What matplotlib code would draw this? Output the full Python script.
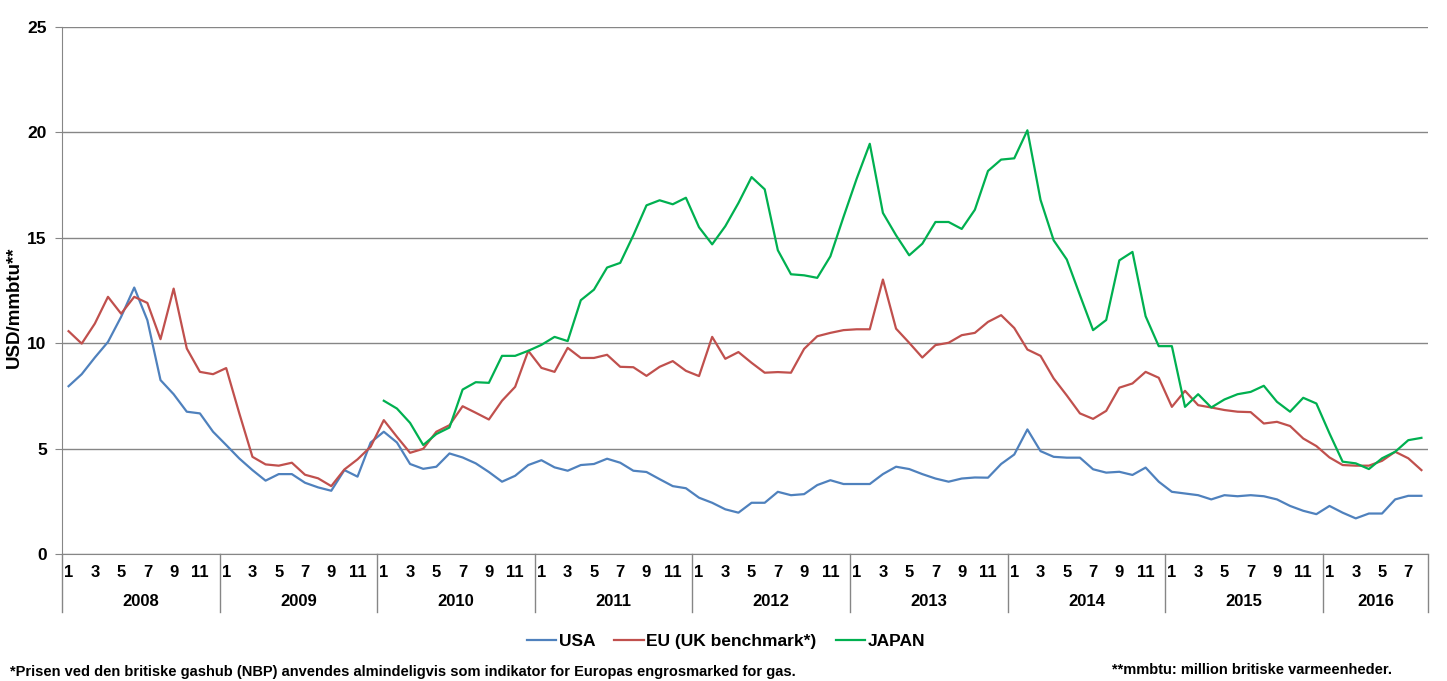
import matplotlib
matplotlib.use("Agg")
import matplotlib.pyplot as plt
import matplotlib.transforms as mtransforms
import numpy as np

plt.rcParams['font.family'] = ['Liberation Sans', 'DejaVu Sans']
plt.rcParams['font.weight'] = 'bold'

# monthly prices, Jan 2008 - Aug 2016 (USD/mmbtu)
years = ['2008', '2009', '2010', '2011', '2012', '2013', '2014', '2015', '2016']
month_labels = ['1', '3', '5', '7', '9', '11']

usa = [7.96, 8.53, 9.32, 10.06, 11.25, 12.64, 11.09, 8.25, 7.58, 6.75, 6.67, 5.8,
       5.17, 4.53, 3.98, 3.48, 3.79, 3.79, 3.38, 3.16, 3.0, 3.98, 3.67, 5.29,
       5.8, 5.29, 4.27, 4.04, 4.14, 4.77, 4.58, 4.3, 3.89, 3.43, 3.71, 4.22,
       4.45, 4.11, 3.95, 4.22, 4.27, 4.52, 4.33, 3.95, 3.89, 3.55, 3.22, 3.12,
       2.67, 2.43, 2.12, 1.96, 2.43, 2.43, 2.95, 2.79, 2.84, 3.27, 3.5, 3.32,
       3.32, 3.32, 3.79, 4.14, 4.03, 3.79, 3.58, 3.43, 3.58, 3.63, 3.62, 4.27,
       4.72, 5.91, 4.88, 4.61, 4.57, 4.57, 4.02, 3.86, 3.9, 3.75, 4.1, 3.43,
       2.95, 2.87, 2.79, 2.59, 2.79, 2.74, 2.79, 2.74, 2.59, 2.28, 2.05, 1.89,
       2.28, 1.96, 1.69, 1.92, 1.92, 2.59, 2.76, 2.76]

eu = [10.57, 9.98, 10.93, 12.2, 11.4, 12.2, 11.91, 10.19, 12.59, 9.75, 8.64, 8.53,
      8.82, 6.67, 4.61, 4.25, 4.19, 4.33, 3.76, 3.59, 3.22, 4.01, 4.49, 5.09,
      6.35, 5.56, 4.8, 4.99, 5.8, 6.11, 7.01, 6.7, 6.38, 7.27, 7.93, 9.64,
      8.83, 8.64, 9.78, 9.3, 9.3, 9.45, 8.88, 8.86, 8.45, 8.88, 9.15, 8.69,
      8.44, 10.3, 9.26, 9.58, 9.07, 8.6, 8.63, 8.6, 9.73, 10.33, 10.49, 10.62,
      10.66, 10.66, 13.02, 10.69, 10.02, 9.32, 9.91, 10.02, 10.38, 10.49, 11.01, 11.33,
      10.72, 9.7, 9.4, 8.33, 7.52, 6.67, 6.41, 6.79, 7.89, 8.09, 8.64, 8.36,
      6.98, 7.74, 7.06, 6.95, 6.83, 6.75, 6.73, 6.19, 6.27, 6.07, 5.48, 5.12,
      4.58, 4.22, 4.19, 4.19, 4.42, 4.85, 4.54, 3.98]

# Japan series starts Jan 2010
japan = [7.27, 6.9, 6.22, 5.17, 5.69, 6.0, 7.8, 8.15, 8.12, 9.4, 9.4, 9.64,
         9.92, 10.3, 10.1, 12.04, 12.54, 13.59, 13.81, 15.12, 16.54, 16.78, 16.59, 16.9,
         15.5, 14.69, 15.55, 16.65, 17.88, 17.3, 14.41, 13.27, 13.22, 13.1, 14.12, 15.99,
         17.8, 19.46, 16.18, 15.12, 14.17, 14.72, 15.75, 15.75, 15.42, 16.33, 18.17, 18.71,
         18.77, 20.1, 16.8, 14.88, 13.97, 12.28, 10.62, 11.1, 13.93, 14.33, 11.28, 9.86,
         9.86, 6.98, 7.58, 6.95, 7.33, 7.58, 7.69, 7.98, 7.22, 6.75, 7.41, 7.14,
         5.72, 4.38, 4.3, 4.03, 4.54, 4.85, 5.4, 5.51]

n = len(usa)
x = np.arange(n)
x_japan = np.arange(n - len(japan), n)

W, H = 1447, 681
fig = plt.figure(figsize=(W / 100, H / 100), dpi=100)
left, right, top, bottom = 62, 1428, 27, 554
ax = fig.add_axes([left / W, 1 - bottom / H, (right - left) / W, (bottom - top) / H])

grid_col = '#868686'
ax.plot(x, usa, color='#4F81BD', lw=1.6, label='USA')
ax.plot(x, eu, color='#C0504D', lw=1.6, label='EU (UK benchmark*)')
ax.plot(x_japan, japan, color='#00B050', lw=1.6, label='JAPAN')

ax.set_xlim(-0.5, n - 0.5)
ax.set_ylim(0, 25)
ax.set_yticks(range(0, 26, 5))
ax.yaxis.grid(True, color=grid_col, lw=1)
ax.set_axisbelow(True)
for s in ['top', 'right']:
    ax.spines[s].set_visible(False)
ax.spines['left'].set_color(grid_col)
ax.spines['bottom'].set_color(grid_col)
ax.tick_params(axis='y', length=5, color=grid_col, labelsize=12.5, pad=6)
for lab in ax.get_yticklabels():
    lab.set_fontweight('bold')

# month ticks (odd months) and year groups
ticks = list(range(0, n, 2))
ax.set_xticks(ticks)
ax.set_xticklabels([month_labels[(t % 12) // 2] for t in ticks], fontsize=12, fontweight='bold')
ax.tick_params(axis='x', length=0, pad=8)

trans = mtransforms.blended_transform_factory(ax.transData, ax.transAxes)
sep_depth = 58 / (bottom - top)
for k in range(len(years) + 1):
    xs = min(k * 12, n) - 0.5
    ax.plot([xs, xs], [0, -sep_depth], color=grid_col, lw=1, transform=trans, clip_on=False)
for k, yr in enumerate(years):
    end = min((k + 1) * 12, n)
    ax.text((k * 12 + end - 1) / 2, -48 / (bottom - top), yr, transform=trans,
            ha='center', va='center', fontsize=12, fontweight='bold')

ax.set_ylabel('USD/mmbtu**', fontsize=13.5, fontweight='bold')
ax.yaxis.set_label_coords(-(left - 23) / (right - left), (bottom - 307) / (bottom - top))

leg = fig.legend(loc='center', bbox_to_anchor=(726 / W, 1 - 641 / H), ncol=3, frameon=False,
                 prop={'size': 12.5, 'weight': 'bold'}, handlelength=1.7, handletextpad=0.15,
                 columnspacing=1.1)

fig.text(10 / W, 1 - 672 / H,
         '*Prisen ved den britiske gashub (NBP) anvendes almindeligvis som indikator for Europas engrosmarked for gas.',
         ha='left', va='center', fontsize=10.5, fontweight='bold')
fig.text(1112 / W, 1 - 670 / H, '**mmbtu: million britiske varmeenheder.',
         ha='left', va='center', fontsize=10.5, fontweight='bold')

fig.savefig('out.png', dpi=100)
